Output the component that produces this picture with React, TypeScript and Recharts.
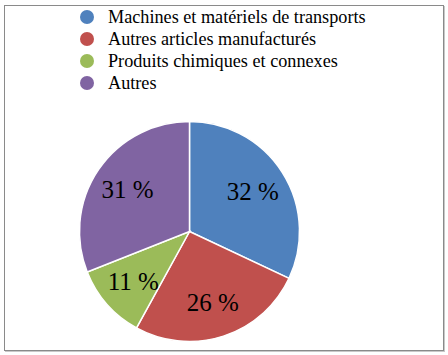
import { PieChart, Pie, Cell } from "recharts"

// Répartition des exportations
const categories = [
  "Machines et matériels de transports",
  "Autres articles manufacturés",
  "Produits chimiques et connexes",
  "Autres",
]
const shares = [32, 26, 11, 31]
const colors = ["#4F81BD", "#C0504D", "#9BBB59", "#8064A2"]

const data = categories.map((name, i) => ({ name, value: shares[i] }))

const serif = "'Liberation Serif', 'Times New Roman', serif"
const RAD = Math.PI / 180

const renderLabel = (props: any) => {
  const { cx, cy, midAngle, value } = props
  const r = 75
  const x = cx + r * Math.cos(-midAngle * RAD)
  const y = cy + r * Math.sin(-midAngle * RAD)
  return (
    <text x={x} y={y} fill="#000" fontSize={25} fontFamily={serif} textAnchor="middle" dominantBaseline="central">
      {`${value} %`}
    </text>
  )
}

export default function App() {
  return (
    <div style={{ position: "absolute", left: 0, top: 0, width: 448, height: 355, background: "#fff" }}>
      <div
        style={{
          position: "absolute",
          left: 4,
          top: 5,
          width: 438,
          height: 344,
          border: "1.5px solid #8a8a8a",
          boxShadow: "1px 1px 0 #c8c8c8",
        }}
      />
      <div style={{ position: "absolute", left: 0, top: 0 }}>
        <PieChart width={448} height={355} margin={{ top: 0, right: 0, bottom: 0, left: 0 }}>
          <Pie
            data={data}
            dataKey="value"
            nameKey="name"
            cx={189.5}
            cy={231.5}
            outerRadius={110}
            startAngle={90}
            endAngle={-270}
            stroke="#fff"
            strokeWidth={1.5}
            label={renderLabel}
            labelLine={false}
            isAnimationActive={false}
          >
            {data.map((d, i) => (
              <Cell key={d.name} fill={colors[i]} />
            ))}
          </Pie>
        </PieChart>
      </div>
      <div style={{ position: "absolute", left: 80, top: 5.6, fontFamily: serif, fontSize: 18.2, color: "#000" }}>
        {categories.map((name, i) => (
          <div key={name} style={{ display: "flex", alignItems: "center", height: 22.2 }}>
            <span
              style={{
                width: 14,
                height: 14,
                borderRadius: "50%",
                background: colors[i],
                display: "inline-block",
                marginRight: 14,
              }}
            />
            <span style={{ lineHeight: "22px", whiteSpace: "nowrap" }}>{name}</span>
          </div>
        ))}
      </div>
    </div>
  )
}
